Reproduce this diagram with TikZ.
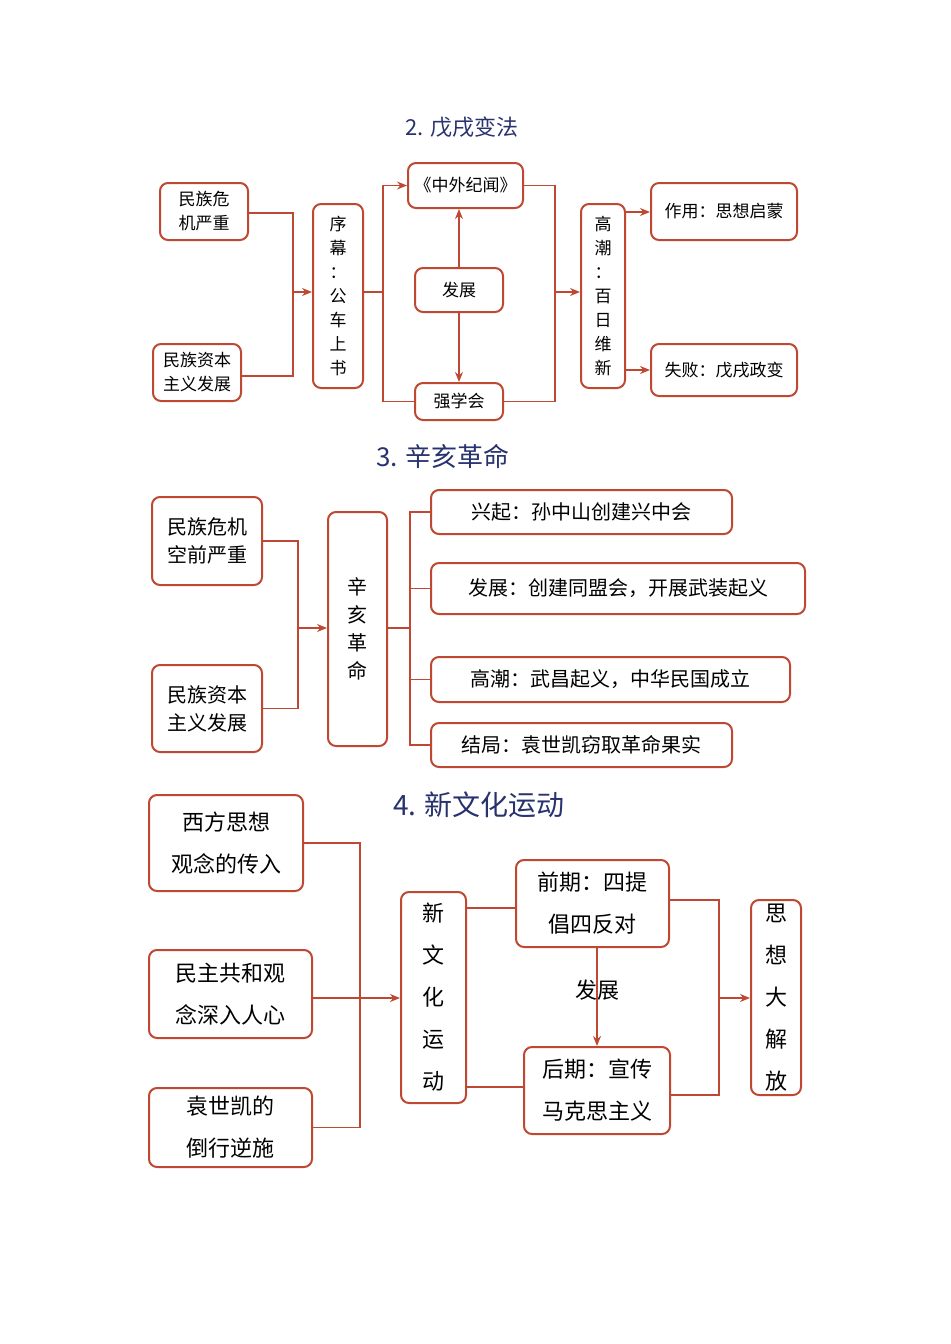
\documentclass[tikz,border=0pt]{standalone}
\usepackage{fontspec}
\setmainfont{Noto Sans CJK SC}
\usetikzlibrary{arrows.meta}
\definecolor{bc}{RGB}{190,72,50}
\definecolor{tc}{RGB}{40,50,110}
\begin{document}
\begin{tikzpicture}[x=0.5pt,y=-0.5pt,
 bx/.style={draw=bc,line width=1pt,rounded corners=4pt,inner sep=0pt,align=center},
 ln/.style={draw=bc,line width=0.8pt},
 ar/.style={ln,-{Stealth[length=5pt,width=4pt]}},
 tt/.style={text=tc}]
\useasboundingbox (0,0) rectangle (950,1344);
% Section 2
\node[tt,font=\fontsize{11}{13}\selectfont] (t2) at (462,127) {2. 戊戌变法};
\begin{scope}[every node/.append style={font=\fontsize{8.5}{12}\selectfont}]
\node[bx,minimum width=44pt,minimum height=28.5pt] (a1) at (204,211.5) {民族危\\机严重};
\node[bx,minimum width=44pt,minimum height=28.5pt] (a2) at (197,372.5) {民族资本\\主义发展};
\node[bx,minimum width=25pt,minimum height=92pt] (a3) at (338,296) {序\\幕\\：\\公\\车\\上\\书};
\node[bx,minimum width=57.5pt,minimum height=22.5pt] (a4) at (465.5,185.5) {《中外纪闻》};
\node[bx,minimum width=44pt,minimum height=22pt] (a5) at (459,290) {发展};
\node[bx,minimum width=44pt,minimum height=18.5pt] (a6) at (459,401.5) {强学会};
\node[bx,minimum width=22pt,minimum height=92pt] (a7) at (603,296) {高\\潮\\：\\百\\日\\维\\新};
\node[bx,minimum width=73pt,minimum height=28.5pt] (a8) at (724,211.5) {作用：思想启蒙};
\node[bx,minimum width=73pt,minimum height=26pt] (a9) at (724,370) {失败：戊戌政变};
\end{scope}
\coordinate (j1) at (293,292);
\draw[ln] (a1.east |- 0,213) -| (j1) |- (a2.east |- 0,376);
\draw[ar] (j1) -- (a3.west |- j1);
\coordinate (j2) at (383,292);
\draw[ln] (a3.east |- j2) -- (j2);
\draw[ar] (j2) |- (a4.west);
\draw[ln] (j2) |- (a6.west);
\coordinate (j3) at (555,292);
\draw[ln] (a4.east) -| (j3) |- (a6.east);
\draw[ar] (j3) -- (a7.west |- j3);
\draw[ar] (a5.north) -- (a4.south -| a5.north);
\draw[ar] (a5.south) -- (a6.north -| a5.south);
\draw[ar] (a7.east |- 0,212) -- (a8.west |- 0,212);
\draw[ar] (a7.east |- 0,370) -- (a9.west);
% Section 3
\node[tt,font=\fontsize{13}{15}\selectfont] (t3) at (443,456) {3. 辛亥革命};
\begin{scope}[every node/.append style={font=\fontsize{10}{14}\selectfont}]
\node[bx,minimum width=55pt,minimum height=44pt] (b1) at (207,541) {民族危机\\空前严重};
\node[bx,minimum width=55pt,minimum height=43.5pt] (b2) at (207,708.5) {民族资本\\主义发展};
\node[bx,minimum width=29.5pt,minimum height=117pt] (b3) at (357.5,629) {辛\\亥\\革\\命};
\node[bx,minimum width=150.5pt,minimum height=22pt] (b4) at (581.5,512) {兴起：孙中山创建兴中会};
\node[bx,minimum width=187pt,minimum height=25.5pt] (b5) at (618,588.5) {发展：创建同盟会，开展武装起义};
\node[bx,minimum width=179.5pt,minimum height=22.5pt] (b6) at (610.5,679.5) {高潮：武昌起义，中华民国成立};
\node[bx,minimum width=150.5pt,minimum height=22pt] (b7) at (581.5,745) {结局：袁世凯窃取革命果实};
\end{scope}
\coordinate (k1) at (298,628);
\draw[ln] (b1.east) -| (k1) |- (b2.east);
\draw[ar] (k1) -- (b3.west |- k1);
\coordinate (k2) at (410,628);
\draw[ln] (b3.east |- k2) -- (k2);
\draw[ln] (b4.west) -| (k2) |- (b7.west);
\draw[ln] (k2 |- b5.west) -- (b5.west);
\draw[ln] (k2 |- b6.west) -- (b6.west);
% Section 4
\node[tt,font=\fontsize{14}{16}\selectfont] (t4) at (479,805) {4. 新文化运动};
\begin{scope}[every node/.append style={font=\fontsize{11}{21}\selectfont}]
\node[bx,minimum width=77pt,minimum height=48pt] (c1) at (226,843) {西方思想\\观念的传入};
\node[bx,minimum width=81.5pt,minimum height=44pt] (c2) at (230.5,994) {民主共和观\\念深入人心};
\node[bx,minimum width=81.5pt,minimum height=39.5pt] (c3) at (230.5,1127.5) {袁世凯的\\倒行逆施};
\node[bx,minimum width=32.5pt,minimum height=105.5pt] (c4) at (433.5,997.5) {新\\文\\化\\运\\动};
\node[bx,minimum width=76.5pt,minimum height=43.5pt] (c5) at (592.5,903.5) {前期：四提\\倡四反对};
\node[bx,minimum width=73pt,minimum height=43.5pt] (c6) at (597,1090.5) {后期：宣传\\马克思主义};
\node[bx,minimum width=25pt,minimum height=97.5pt] (c7) at (776,997.5) {思\\想\\大\\解\\放};
\node (c8) at (597,990) {发展};
\end{scope}
\coordinate (m1) at (360,998);
\draw[ln] (c1.east) -| (m1) |- (c3.east);
\draw[ln] (c2.east |- m1) -- (m1);
\draw[ar] (m1) -- (c4.west |- m1);
\draw[ln] (c4.east |- 0,908) -- (c5.west |- 0,908);
\draw[ln] (c4.east |- 0,1087) -- (c6.west |- 0,1087);
\coordinate (m2) at (719,998);
\draw[ln] (c5.east |- 0,900) -| (m2) |- (c6.east |- 0,1095);
\draw[ar] (m2) -- (c7.west |- m2);
\draw[ar] (c5.south -| c8) -- (c6.north -| c8);
\end{tikzpicture}
\end{document}
